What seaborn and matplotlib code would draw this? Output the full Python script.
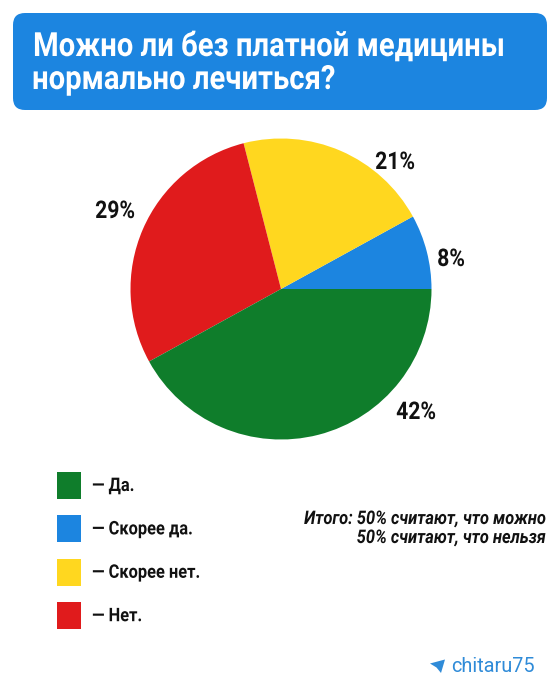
import matplotlib.pyplot as plt
from matplotlib.patches import FancyBboxPatch, Polygon, Rectangle
from matplotlib.patheffects import AbstractPathEffect
from matplotlib.text import Text
from matplotlib.transforms import Affine2D, Bbox
import seaborn as sns

title_lines = ['Можно ли без платной медицины', 'нормально лечиться?']
categories = ['Да.', 'Скорее да.', 'Скорее нет.', 'Нет.']
shares = [42, 8, 21, 29]
colors = ['#0f7d2b', '#1c85e0', '#ffd71f', '#e01b1c']
summary_lines = ['Итого: 50% считают, что можно', '50% считают, что нельзя']
credit = 'chitaru75'

sns.set_theme(style='white')
plt.rcParams['font.family'] = ['Roboto', 'DejaVu Sans']


# no condensed Roboto installed, so squeeze the glyphs sideways round the anchor
class Squeeze(AbstractPathEffect):
    def __init__(self, text, sx):
        super().__init__()
        self.text = text
        self.sx = sx

    def draw_path(self, renderer, gc, tpath, affine, rgbFace=None):
        x0 = self.text.anchor_px()
        squeeze = Affine2D().translate(-x0, 0).scale(self.sx, 1).translate(x0, 0)
        renderer.draw_path(gc, tpath, affine + squeeze, rgbFace)


class NarrowText(Text):
    def __init__(self, x, y, s, sx=1.0, **kw):
        super().__init__(x, y, s, **kw)
        self.sx = sx
        self.set_path_effects([Squeeze(self, sx)])

    def anchor_px(self):
        return self.get_transform().transform(self.get_unitless_position())[0]

    def get_window_extent(self, renderer=None, dpi=None):
        box = super().get_window_extent(renderer, dpi)
        x0 = self.anchor_px()
        return Bbox([[x0 + (box.x0 - x0) * self.sx, box.y0],
                     [x0 + (box.x1 - x0) * self.sx, box.y1]])


def put(ax, x, y, s, sx, **kw):
    t = NarrowText(x, y, s, sx=sx, **kw)
    ax.add_artist(t)
    return t


fig = plt.figure(figsize=(5.6, 7), dpi=100, facecolor='white')

bg = fig.add_axes([0, 0, 1, 1])
bg.set_xlim(0, 560)
bg.set_ylim(700, 0)
bg.axis('off')

bg.add_patch(FancyBboxPatch((13, 13), 534, 97, boxstyle='round,pad=0,rounding_size=12',
                            fc='#1c85e0', ec='none'))
# centre anchors so both lines start at the same left edge after squeezing
put(bg, 269.5, 56, title_lines[0], 0.877, color='white', fontsize=24, fontweight='bold',
    ha='center', va='baseline')
put(bg, 184, 89, title_lines[1], 0.877, color='white', fontsize=24, fontweight='bold',
    ha='center', va='baseline')

# pie, order round the circle from 3 o'clock going counterclockwise
order = [1, 2, 3, 0]
pie_ax = fig.add_axes([130 / 560, 1 - 439.5 / 700, 302 / 560, 301 / 700])
pie_ax.pie([shares[i] for i in order], colors=[colors[i] for i in order],
           startangle=0, counterclock=True, radius=1, wedgeprops={'linewidth': 0})
pie_ax.set_xlim(-1, 1)
pie_ax.set_ylim(-1, 1)

label_pos = {0: (416, 419), 1: (451, 266), 2: (395, 169), 3: (115, 218)}
for i, pos in label_pos.items():
    put(bg, pos[0], pos[1], f'{shares[i]}%', 0.87, fontsize=17.5, fontweight='bold',
        color='#111111', ha='center', va='baseline')

for i, name in enumerate(categories):
    y = 472 + i * 43.4
    bg.add_patch(Rectangle((57, y), 24, 26.7, fc=colors[i], ec='none'))
    put(bg, 92, y + 19, '— ' + name, 0.875, fontsize=13.5, fontweight='bold', color='#111111',
        va='baseline')

put(bg, 546, 524, summary_lines[0], 0.878, fontsize=13.5, fontweight='bold', fontstyle='italic',
    color='#111111', ha='right', va='baseline')
put(bg, 546, 543, summary_lines[1], 0.878, fontsize=13.5, fontweight='bold', fontstyle='italic',
    color='#111111', ha='right', va='baseline')

bg.add_patch(Polygon([(430, 663.5), (445, 659.5), (441, 673), (436.5, 667.5)], fc='#2f8bd8', ec='none'))
bg.text(451, 667, credit, fontsize=14.3, color='#2f8bd8', va='center')

fig.savefig('out.png', dpi=100)
